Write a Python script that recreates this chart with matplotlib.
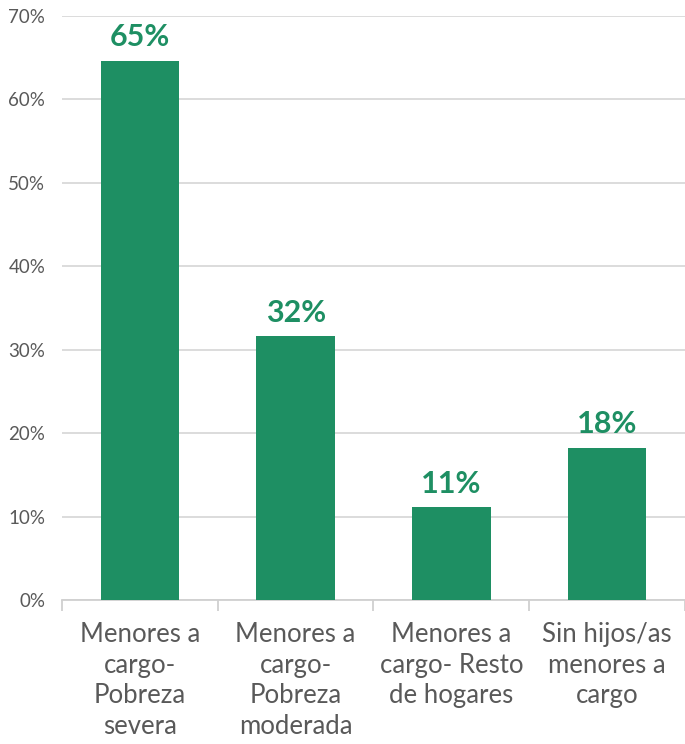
import numpy as np
import matplotlib.pyplot as plt
from matplotlib.ticker import FixedLocator, PercentFormatter

categories = ["Menores a\ncargo-\nPobreza\nsevera",
              "Menores a\ncargo-\nPobreza\nmoderada",
              "Menores a\ncargo- Resto\nde hogares",
              "Sin hijos/as\nmenores a\ncargo"]
values = [64.6, 31.6, 11.1, 18.2]

green = "#1e8f63"
grey = "#595959"

plt.rcParams['font.family'] = ['Lato', 'DejaVu Sans']

fig = plt.figure(figsize=(6.85, 7.44), dpi=100)
ax = fig.add_axes([0.0905, 0.1935, 0.9095, 0.785])

x = np.arange(len(categories))
bars = ax.bar(x, values, width=0.505, color=green, zorder=3)

for xi, v in zip(x, values):
    ax.annotate(f"{v:.0f}%", (xi, v), xytext=(0, 7), textcoords="offset points",
                ha="center", va="bottom", fontsize=22, fontweight="bold", color=green)

ax.set_xlim(-0.5, len(categories) - 0.5)
ax.set_ylim(0, 70)
ax.set_yticks(np.arange(0, 71, 10))
ax.yaxis.set_major_formatter(PercentFormatter(decimals=0))
ax.grid(axis="y", color="#d9d9d9", linewidth=1.3, zorder=0)

ax.set_xticks(x)
ax.set_xticklabels(categories, fontsize=18.5, color=grey, linespacing=1.28, va="top")
ax.xaxis.set_minor_locator(FixedLocator(np.arange(-0.5, len(categories), 1)))
ax.tick_params(axis="x", which="major", length=0, pad=16)
ax.tick_params(axis="x", which="minor", length=8, color="#d0d0d0", width=1.3)
ax.tick_params(axis="y", length=0, pad=12, labelsize=13.5, labelcolor=grey)

for s in ["top", "right", "left"]:
    ax.spines[s].set_visible(False)
ax.spines["bottom"].set_color("#d0d0d0")
ax.spines["bottom"].set_linewidth(1.3)

fig.savefig("out.png", dpi=100)
